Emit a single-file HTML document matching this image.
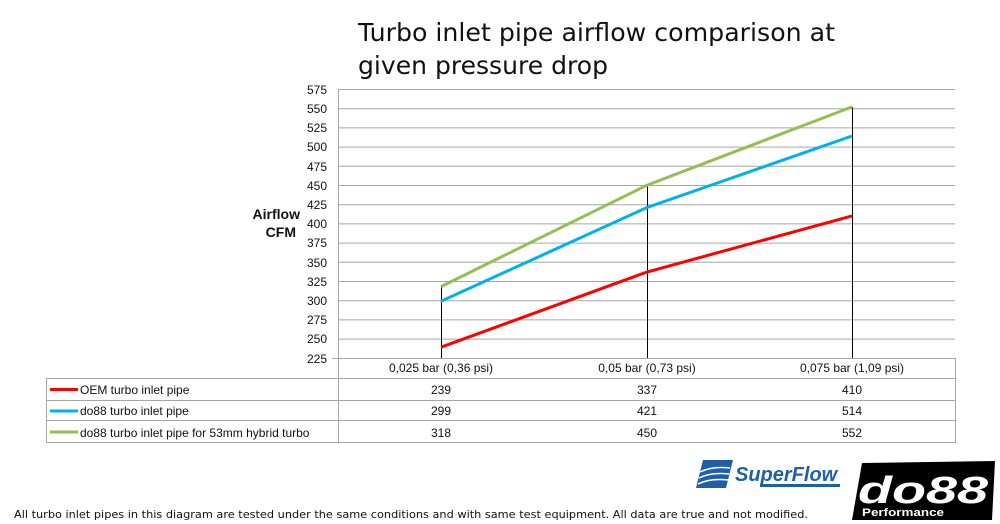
<!DOCTYPE html>
<html><head><meta charset="utf-8"><style>
html,body{margin:0;padding:0;background:#fff;}
svg{display:block;}
</style></head><body>
<svg width="1000" height="524" xmlns="http://www.w3.org/2000/svg" font-family="Liberation Sans, sans-serif">
<text x="358" y="41" font-family="DejaVu Sans, sans-serif" font-size="25" fill="#111" textLength="477" lengthAdjust="spacingAndGlyphs">Turbo inlet pipe airflow comparison at</text>
<text x="358" y="74" font-family="DejaVu Sans, sans-serif" font-size="25" fill="#111" textLength="250" lengthAdjust="spacingAndGlyphs">given pressure drop</text>
<g stroke="#a6a6a6" stroke-width="1">
<line x1="338" y1="89.5" x2="955" y2="89.5"/><line x1="338" y1="108.7" x2="955" y2="108.7"/><line x1="338" y1="127.9" x2="955" y2="127.9"/><line x1="338" y1="147.1" x2="955" y2="147.1"/><line x1="338" y1="166.3" x2="955" y2="166.3"/><line x1="338" y1="185.5" x2="955" y2="185.5"/><line x1="338" y1="204.7" x2="955" y2="204.7"/><line x1="338" y1="223.9" x2="955" y2="223.9"/><line x1="338" y1="243.1" x2="955" y2="243.1"/><line x1="338" y1="262.3" x2="955" y2="262.3"/><line x1="338" y1="281.5" x2="955" y2="281.5"/><line x1="338" y1="300.7" x2="955" y2="300.7"/><line x1="338" y1="319.9" x2="955" y2="319.9"/><line x1="338" y1="339.1" x2="955" y2="339.1"/>
<line x1="332" y1="358.5" x2="955" y2="358.5"/>
<line x1="338.5" y1="89" x2="338.5" y2="443"/>
<line x1="955.5" y1="358" x2="955.5" y2="443"/>
<line x1="46" y1="378.5" x2="955" y2="378.5"/><line x1="46" y1="400.5" x2="955" y2="400.5"/><line x1="46" y1="420.5" x2="955" y2="420.5"/><line x1="46" y1="442.5" x2="955" y2="442.5"/>
<line x1="46.5" y1="378" x2="46.5" y2="443"/>
</g>
<g font-size="12" fill="#111" text-anchor="end">
<text x="327" y="94">575</text><text x="327" y="113">550</text><text x="327" y="132">525</text><text x="327" y="151">500</text><text x="327" y="171">475</text><text x="327" y="190">450</text><text x="327" y="209">425</text><text x="327" y="228">400</text><text x="327" y="247">375</text><text x="327" y="267">350</text><text x="327" y="286">325</text><text x="327" y="305">300</text><text x="327" y="324">275</text><text x="327" y="343">250</text><text x="327" y="363">225</text>
</g>
<text x="300" y="219" font-size="14" font-weight="bold" text-anchor="end" fill="#111">Airflow</text>
<text x="296" y="237" font-size="14" font-weight="bold" text-anchor="end" fill="#111">CFM</text>
<g stroke="#000" stroke-width="1">
<line x1="441.5" y1="286" x2="441.5" y2="358"/><line x1="647.5" y1="185" x2="647.5" y2="358"/><line x1="852.5" y1="107" x2="852.5" y2="358"/>
</g>
<polyline points="441,347.2 647,272 852,215.9" fill="none" stroke="#ff0000" stroke-width="3"/>
<polyline points="441,301.2 647,207.5 852,136" fill="none" stroke="#00b0f0" stroke-width="3"/>
<polyline points="441,286.6 647,185.2 852,106.9" fill="none" stroke="#92c050" stroke-width="3"/>
<g font-size="12" fill="#111" text-anchor="middle">
<text x="441" y="372">0,025 bar (0,36 psi)</text><text x="647" y="372">0,05 bar (0,73 psi)</text><text x="852" y="372">0,075 bar (1,09 psi)</text>
<text x="441" y="394">239</text><text x="647" y="394">337</text><text x="852" y="394">410</text>
<text x="441" y="415">299</text><text x="647" y="415">421</text><text x="852" y="415">514</text>
<text x="441" y="437">318</text><text x="647" y="437">450</text><text x="852" y="437">552</text>
</g>
<line x1="50" y1="389.5" x2="78" y2="389.5" stroke="#ff0000" stroke-width="3"/>
<line x1="50" y1="411" x2="78" y2="411" stroke="#00b0f0" stroke-width="3"/>
<line x1="50" y1="432" x2="78" y2="432" stroke="#92c050" stroke-width="3"/>
<g font-size="12" fill="#111">
<text x="80" y="394">OEM turbo inlet pipe</text><text x="80" y="415">do88 turbo inlet pipe</text><text x="80" y="437">do88 turbo inlet pipe for 53mm hybrid turbo</text>
</g>
<text x="14" y="518" font-family="DejaVu Sans, sans-serif" font-size="11" fill="#111" textLength="794" lengthAdjust="spacingAndGlyphs">All turbo inlet pipes in this diagram are tested under the same conditions and with same test equipment. All data are true and not modified.</text>
<polygon points="703,460 733,460 726,488 696,488" fill="#1f5fa8"/>
<path d="M700,472 q12,-6 30,-4 M699,478 q12,-6 30,-4 M698,484 q12,-6 30,-4" stroke="#fff" stroke-width="1.5" fill="none"/>
<text x="735" y="481" font-size="20" font-weight="bold" font-style="italic" fill="#1f5fa8">SuperFlow</text>
<rect x="760" y="484" width="80" height="3" fill="#1f5fa8"/>
<polygon points="862,463 995,461 992,520 852,520" fill="#000"/>
<text x="858" y="503" font-size="38" font-weight="bold" font-style="italic" fill="#fff" textLength="130" lengthAdjust="spacingAndGlyphs">do88</text>
<text x="862" y="516" font-size="11" font-weight="bold" fill="#fff" textLength="82" lengthAdjust="spacingAndGlyphs">Performance</text>
</svg>
</body></html>
